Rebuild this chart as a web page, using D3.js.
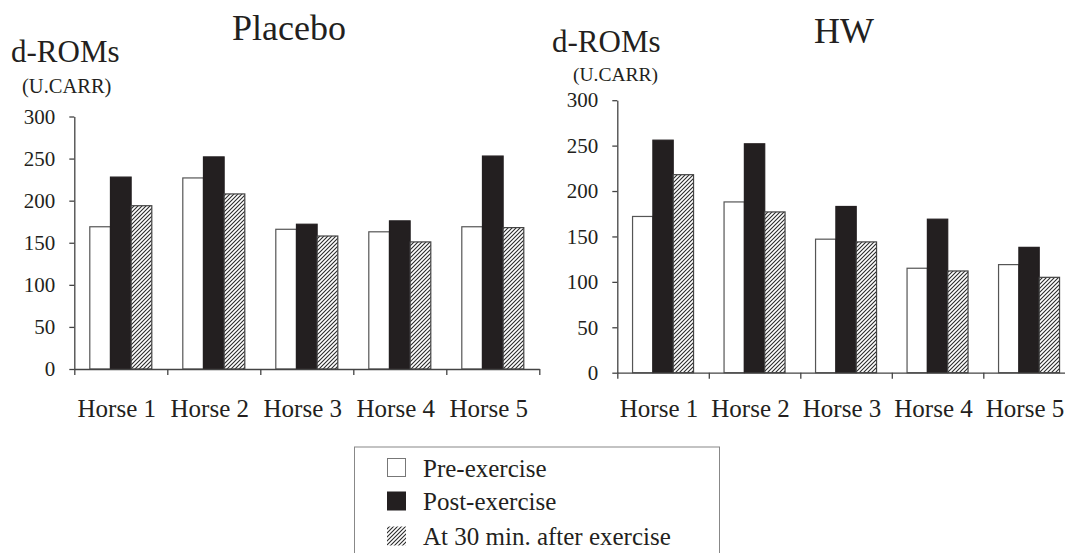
<!DOCTYPE html>
<html>
<head>
<meta charset="utf-8">
<script src="https://cdn.jsdelivr.net/npm/d3@7"></script>
<style>
  html, body { margin: 0; padding: 0; background: #fff; }
  svg { display: block; }
  text { font-family: "Liberation Serif", "Times New Roman", "DejaVu Serif", serif; fill: #231f20; }
</style>
</head>
<body>
<svg id="chart" width="1065" height="553"></svg>
<script>
const categories = ["Horse 1", "Horse 2", "Horse 3", "Horse 4", "Horse 5"];
const seriesNames = ["Pre-exercise", "Post-exercise", "At 30 min. after exercise"];
const placeboPre  = [169, 227, 166, 163, 169];
const placeboPost = [228, 252, 172, 176, 253];
const placebo30   = [194, 208, 158, 151, 168];
const hwPre  = [172, 188, 147, 115, 119];
const hwPost = [256, 252, 183, 169, 138];
const hw30   = [218, 177, 144, 112, 105];
const yTicks = [0, 50, 100, 150, 200, 250, 300];

const svg = d3.select("#chart");
const ink = "#231f20";
const axisColor = "#444";

// hatch pattern
const defs = svg.append("defs");
const pat = defs.append("pattern")
  .attr("id", "hatch").attr("patternUnits", "userSpaceOnUse")
  .attr("width", 4).attr("height", 4);
pat.append("rect").attr("width", 4).attr("height", 4).attr("fill", "#fff");
pat.append("path").attr("d", "M-1,1 l2,-2 M0,4 l4,-4 M3,5 l2,-2")
  .attr("stroke", "#2a2a2a").attr("stroke-width", 1.1);

const fills = ["#ffffff", ink, "url(#hatch)"];
const strokes = ["#555", ink, "#444"];

function drawPanel(opts) {
  const { data, x0range, y0, y300, title, titleX, titleY, unitX, unitY1, unitX2, unitY2, unitSize } = opts;
  const g = svg.append("g");
  const x0 = d3.scaleBand().domain(categories).range(x0range).paddingInner(0).paddingOuter(0);
  const x1 = d3.scaleBand().domain(seriesNames).range([0, x0.bandwidth()]).paddingOuter(0.75).paddingInner(0);
  const y = d3.scaleLinear().domain([0, 300]).range([y0, y300]);

  // bars
  categories.forEach((c, i) => {
    seriesNames.forEach((s, j) => {
      const v = data[j][i];
      g.append("rect")
        .attr("x", x0(c) + x1(s))
        .attr("y", y(v))
        .attr("width", x1.bandwidth())
        .attr("height", y(0) - y(v))
        .attr("fill", fills[j])
        .attr("stroke", strokes[j])
        .attr("stroke-width", 1.2);
    });
  });

  // y axis
  const ya = g.append("g").attr("transform", `translate(${x0range[0]},0)`)
    .call(d3.axisLeft(y).tickValues(yTicks).tickSize(5).tickSizeOuter(0).tickPadding(14));
  ya.attr("font-family", null);
  ya.select(".domain").attr("stroke", axisColor).attr("stroke-width", 1.3);
  ya.selectAll(".tick line").attr("stroke", axisColor).attr("stroke-width", 1.3);
  ya.selectAll(".tick text").attr("font-size", 21).attr("fill", ink);

  // x axis (boundary ticks)
  const xb = d3.scaleLinear().domain([0, categories.length]).range(x0range);
  const xa = g.append("g").attr("transform", `translate(0,${y0})`)
    .call(d3.axisBottom(xb).tickValues(d3.range(0, categories.length + 1)).tickSize(6).tickSizeOuter(0).tickFormat(""));
  xa.select(".domain").attr("stroke", axisColor).attr("stroke-width", 1.3);
  xa.selectAll(".tick line").attr("stroke", axisColor).attr("stroke-width", 1.3);

  // category labels
  g.selectAll("text.cat").data(categories).enter().append("text")
    .attr("class", "cat")
    .attr("x", d => x0(d) + x0.bandwidth() / 2 - 4)
    .attr("y", 417)
    .attr("text-anchor", "middle")
    .attr("font-size", 25)
    .text(d => d);

  // titles
  g.append("text").attr("x", titleX).attr("y", titleY).attr("text-anchor", "middle")
    .attr("font-size", 36).text(title);
  g.append("text").attr("x", unitX).attr("y", unitY1).attr("font-size", 31).text("d-ROMs");
  g.append("text").attr("x", unitX2).attr("y", unitY2).attr("font-size", unitSize).text("(U.CARR)");
}

drawPanel({
  data: [placeboPre, placeboPost, placebo30],
  x0range: [74.3, 539.3], y0: 369, y300: 116.5,
  title: "Placebo", titleX: 289, titleY: 40,
  unitX: 11, unitY1: 62, unitX2: 22, unitY2: 93, unitSize: 20.5
});
drawPanel({
  data: [hwPre, hwPost, hw30],
  x0range: [617.3, 1074.8], y0: 372.7, y300: 100.2,
  title: "HW", titleX: 844, titleY: 43,
  unitX: 552, unitY1: 52, unitX2: 573, unitY2: 81, unitSize: 19.5
});

// legend
const lg = svg.append("g");
lg.append("rect").attr("x", 354.5).attr("y", 447).attr("width", 365).attr("height", 120)
  .attr("fill", "#fff").attr("stroke", "#888").attr("stroke-width", 1);
const legendY = [477, 510, 545];
seriesNames.forEach((s, j) => {
  lg.append("rect").attr("x", j === 0 ? 387.5 : 387).attr("y", legendY[j] - 18.5)
    .attr("width", j === 0 ? 18 : 19).attr("height", j === 0 ? 18 : 19)
    .attr("fill", fills[j])
    .attr("stroke", j === 0 ? "#777" : "none").attr("stroke-width", 1);
  lg.append("text").attr("x", 423).attr("y", legendY[j]).attr("font-size", 25).text(s);
});
</script>
</body>
</html>
